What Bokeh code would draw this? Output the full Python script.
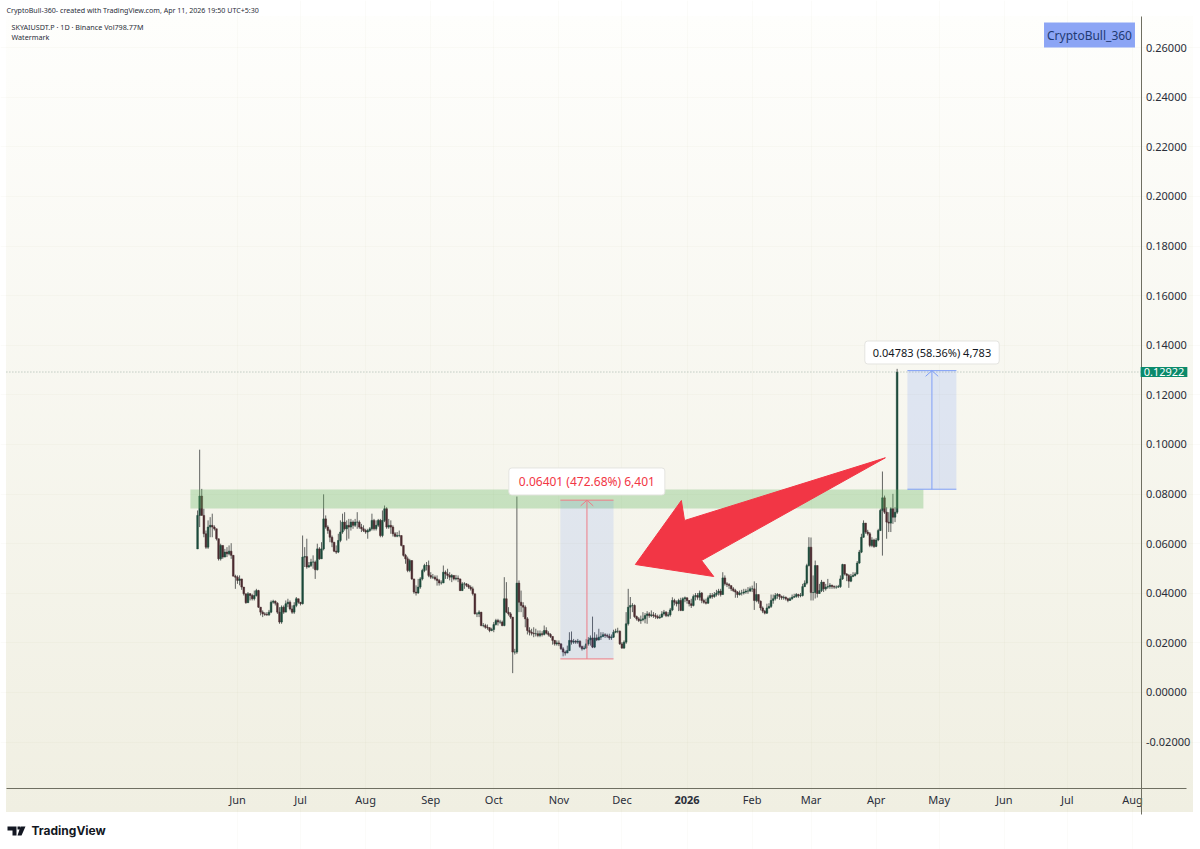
from bokeh.embed import file_html
from bokeh.resources import INLINE
from bokeh.plotting import figure
from bokeh.models import (Range1d, FixedTicker, Label, BoxAnnotation, PolyAnnotation, LinearAxis, Grid,
                          ColumnDataSource)

# ---- price data (USDT), one value per daily bar, from 13 May 2025 to 11 Apr 2026 ----
first_open = .0579
closes = [
 .0714,.0792,.0714,.0640,.0586,.0667,.0674,.0667,.0660,.0620,
 .0539,.0593,.0546,.0566,.0559,.0570,.0553,.0469,.0465,.0452,
 .0458,.0425,.0398,.0362,.0398,.0391,.0378,.0391,.0411,.0344,
 .0324,.0317,.0315,.0313,.0324,.0364,.0368,.0360,.0324,.0284,
 .0344,.0324,.0358,.0364,.0337,.0324,.0351,.0378,.0364,.0358,
 .0546,.0548,.0506,.0512,.0526,.0526,.0495,.0579,.0539,.0579,
 .0700,.0667,.0653,.0626,.0606,.0570,.0566,.0613,.0647,.0687,
 .0660,.0674,.0667,.0687,.0674,.0687,.0687,.0667,.0660,.0653,
 .0647,.0653,.0660,.0694,.0660,.0674,.0694,.0633,.0694,.0741,
 .0667,.0674,.0667,.0640,.0630,.0633,.0633,.0593,.0553,.0539,
 .0492,.0532,.0458,.0405,.0401,.0425,.0458,.0492,.0512,.0512,
 .0472,.0465,.0465,.0458,.0452,.0442,.0442,.0485,.0478,.0472,
 .0465,.0472,.0458,.0461,.0458,.0411,.0438,.0438,.0432,.0425,
 .0418,.0398,.0317,.0317,.0324,.0270,.0270,.0263,.0261,.0250,
 .0254,.0274,.0290,.0284,.0284,.0270,.0378,.0324,.0317,.0304,
 .0163,.0163,.0441,.0364,.0351,.0344,.0297,.0250,.0243,.0239,
 .0237,.0237,.0230,.0237,.0234,.0250,.0239,.0234,.0226,.0210,
 .0196,.0200,.0196,.0176,.0163,.0159,.0169,.0210,.0203,.0207,
 .0203,.0207,.0185,.0176,.0179,.0196,.0212,.0220,.0183,.0220,
 .0212,.0223,.0226,.0233,.0230,.0227,.0220,.0223,.0243,.0247,
 .0247,.0196,.0179,.0203,.0277,.0344,.0351,.0351,.0306,.0297,
 .0290,.0293,.0297,.0310,.0317,.0310,.0313,.0310,.0306,.0301,
 .0304,.0317,.0324,.0310,.0313,.0333,.0371,.0364,.0358,.0371,
 .0331,.0378,.0382,.0371,.0358,.0351,.0387,.0391,.0384,.0401,
 .0371,.0364,.0360,.0382,.0391,.0387,.0395,.0401,.0409,.0395,
 .0462,.0438,.0435,.0431,.0418,.0411,.0405,.0395,.0401,.0401,
 .0405,.0409,.0409,.0418,.0418,.0371,.0395,.0368,.0341,.0328,
 .0320,.0341,.0347,.0371,.0378,.0391,.0395,.0387,.0382,.0384,
 .0378,.0371,.0378,.0384,.0387,.0395,.0390,.0391,.0427,.0441,
 .0512,.0586,.0403,.0403,.0512,.0399,.0411,.0445,.0418,.0425,
 .0427,.0432,.0427,.0425,.0425,.0427,.0458,.0516,.0478,.0472,
 .0449,.0468,.0472,.0478,.0522,.0566,.0626,.0683,.0647,.0640,
 .0593,.0615,.0589,.0615,.0653,.0734,.0785,.0727,.0687,.0683,
 .0741,.0707,.0727,.12922,
]
highs = [
 .0734,.0979,.0821,.0741,.0653,.0694,.0707,.0721,.0674,.0660,
 .0620,.0600,.0593,.0579,.0586,.0593,.0602,.0553,.0475,.0472,
 .0472,.0458,.0425,.0398,.0405,.0401,.0398,.0411,.0418,.0414,
 .0344,.0331,.0324,.0324,.0333,.0371,.0374,.0371,.0364,.0344,
 .0351,.0351,.0371,.0378,.0371,.0351,.0364,.0385,.0378,.0364,
 .0633,.0586,.0620,.0526,.0539,.0553,.0532,.0600,.0586,.0606,
 .0799,.0714,.0674,.0660,.0633,.0606,.0593,.0640,.0694,.0721,
 .0727,.0694,.0700,.0700,.0694,.0700,.0727,.0694,.0680,.0674,
 .0660,.0660,.0667,.0721,.0700,.0694,.0700,.0700,.0734,.0754,
 .0747,.0700,.0694,.0674,.0647,.0647,.0653,.0633,.0593,.0559,
 .0548,.0539,.0532,.0458,.0432,.0458,.0465,.0499,.0519,.0526,
 .0532,.0485,.0478,.0472,.0472,.0458,.0452,.0512,.0492,.0499,
 .0485,.0478,.0472,.0474,.0472,.0458,.0445,.0445,.0441,.0438,
 .0432,.0427,.0398,.0324,.0331,.0324,.0280,.0277,.0274,.0263,
 .0261,.0284,.0297,.0297,.0293,.0290,.0465,.0445,.0344,.0324,
 .0304,.0176,.0790,.0452,.0411,.0364,.0351,.0304,.0263,.0257,
 .0263,.0257,.0250,.0250,.0247,.0270,.0263,.0247,.0239,.0226,
 .0212,.0210,.0210,.0199,.0183,.0169,.0189,.0243,.0246,.0216,
 .0212,.0216,.0210,.0189,.0189,.0216,.0223,.0230,.0306,.0243,
 .0234,.0257,.0243,.0243,.0239,.0237,.0237,.0234,.0253,.0257,
 .0261,.0250,.0203,.0210,.0324,.0418,.0385,.0360,.0355,.0310,
 .0304,.0310,.0324,.0320,.0328,.0324,.0331,.0324,.0320,.0314,
 .0314,.0328,.0333,.0328,.0324,.0341,.0384,.0378,.0371,.0378,
 .0382,.0384,.0387,.0382,.0373,.0378,.0395,.0401,.0401,.0411,
 .0405,.0378,.0378,.0391,.0401,.0401,.0405,.0414,.0418,.0418,
 .0485,.0472,.0445,.0441,.0431,.0425,.0418,.0409,.0411,.0414,
 .0418,.0418,.0425,.0427,.0431,.0448,.0441,.0395,.0371,.0347,
 .0333,.0358,.0360,.0395,.0395,.0401,.0401,.0398,.0391,.0391,
 .0387,.0382,.0384,.0395,.0398,.0401,.0398,.0401,.0438,.0452,
 .0519,.0626,.0625,.0472,.0532,.0512,.0438,.0454,.0445,.0438,
 .0458,.0441,.0435,.0432,.0432,.0434,.0472,.0519,.0516,.0481,
 .0478,.0478,.0485,.0485,.0530,.0575,.0640,.0694,.0683,.0656,
 .0647,.0626,.0620,.0623,.0660,.0741,.0891,.0794,.0747,.0727,
 .0747,.0801,.0747,.1305,
]
lows = [
 .0579,.0667,.0714,.0626,.0579,.0579,.0626,.0626,.0653,.0613,
 .0532,.0532,.0539,.0546,.0546,.0553,.0539,.0469,.0418,.0438,
 .0432,.0414,.0391,.0358,.0362,.0371,.0371,.0371,.0387,.0341,
 .0311,.0304,.0309,.0309,.0309,.0320,.0358,.0351,.0317,.0277,
 .0277,.0317,.0344,.0344,.0331,.0317,.0317,.0344,.0358,.0351,
 .0355,.0506,.0499,.0503,.0506,.0499,.0458,.0492,.0535,.0539,
 .0573,.0660,.0640,.0606,.0586,.0566,.0559,.0562,.0606,.0640,
 .0653,.0613,.0620,.0653,.0660,.0667,.0660,.0660,.0647,.0647,
 .0640,.0620,.0647,.0653,.0653,.0653,.0667,.0626,.0626,.0687,
 .0660,.0660,.0640,.0629,.0626,.0626,.0626,.0589,.0548,.0519,
 .0485,.0485,.0454,.0398,.0391,.0398,.0418,.0452,.0485,.0492,
 .0465,.0458,.0458,.0452,.0431,.0431,.0435,.0441,.0458,.0458,
 .0452,.0445,.0452,.0452,.0445,.0409,.0409,.0418,.0425,.0418,
 .0411,.0391,.0315,.0304,.0304,.0267,.0263,.0257,.0253,.0243,
 .0247,.0243,.0270,.0270,.0277,.0267,.0267,.0320,.0310,.0297,
 .0078,.0153,.0156,.0324,.0324,.0304,.0263,.0234,.0230,.0230,
 .0223,.0226,.0223,.0223,.0226,.0230,.0234,.0226,.0220,.0193,
 .0189,.0189,.0187,.0172,.0146,.0149,.0159,.0167,.0193,.0196,
 .0196,.0196,.0180,.0169,.0173,.0176,.0189,.0189,.0179,.0179,
 .0207,.0210,.0212,.0223,.0220,.0220,.0212,.0212,.0220,.0239,
 .0239,.0192,.0176,.0176,.0196,.0270,.0297,.0324,.0301,.0290,
 .0284,.0277,.0287,.0279,.0277,.0301,.0304,.0301,.0297,.0296,
 .0297,.0301,.0310,.0304,.0304,.0306,.0328,.0351,.0347,.0328,
 .0328,.0328,.0364,.0358,.0347,.0341,.0347,.0371,.0374,.0371,
 .0360,.0358,.0355,.0358,.0378,.0378,.0382,.0387,.0391,.0387,
 .0395,.0431,.0425,.0418,.0409,.0405,.0382,.0382,.0391,.0391,
 .0395,.0398,.0398,.0405,.0405,.0333,.0364,.0358,.0331,.0320,
 .0315,.0317,.0337,.0341,.0358,.0371,.0378,.0374,.0374,.0374,
 .0371,.0364,.0371,.0374,.0382,.0382,.0382,.0384,.0387,.0425,
 .0435,.0508,.0371,.0371,.0379,.0383,.0398,.0405,.0405,.0411,
 .0418,.0418,.0418,.0418,.0418,.0422,.0422,.0454,.0472,.0449,
 .0422,.0445,.0465,.0468,.0476,.0519,.0562,.0624,.0640,.0633,
 .0586,.0586,.0583,.0586,.0610,.0651,.0552,.0720,.0620,.0647,
 .0647,.0680,.0687,.0720,
]
first_day = -19   # 13 May 2025, counted from 1 Jun 2025

# ---- axes ----
month_days = [0, 30, 61, 92, 122, 153, 183, 245, 273, 304, 334, 365, 395, 426]
month_names = ["Jun", "Jul", "Aug", "Sep", "Oct", "Nov", "Dec", "Feb", "Mar", "Apr", "May", "Jun", "Jul", "Aug"]
year_day = 214
year_name = "2026"
price_ticks = [-.02, 0, .02, .04, .06, .08, .10, .12, .14, .16, .18, .20, .22, .24, .26]
price_tick_names = ["-0.02000", "0.00000", "0.02000", "0.04000", "0.06000", "0.08000", "0.10000",
                    "0.12000", "0.14000", "0.16000", "0.18000", "0.20000", "0.22000", "0.24000", "0.26000"]
last_price = .12922
last_price_name = "0.12922"

# ---- drawings ----
zone_days = [-22.4, 326.5]
zone_prices = [.0742, .0819]
red_days = [153.7, 179.0]
red_prices = [.01354, .07755]
red_name = "0.06401 (472.68%) 6,401"
blue_days = [318.9, 342.2]
blue_prices = [.08196, .12979]
blue_name = "0.04783 (58.36%) 4,783"
arrow_days = [308.4, 212.8, 211.3, 189.4, 226.7, 220.9]
arrow_prices = [.09464, .06935, .07742, .05161, .04677, .05323]

# The plot frame fills the whole canvas, so nothing around the chart gets clipped.
# Screen position follows x = 237 + 2.101 * day, y = 692 - 2480 * price.
pane_left, axis_day, pane_right = -110.0, 430.1, 451.5
axis_price, pane_bottom, pane_top = -.03891, -.04919, .27258
p = figure(width=1200, height=849, output_backend="svg", toolbar_location=None,
           x_range=Range1d(-112.8, 458.4), y_range=Range1d(-.06331, .27903),
           x_axis_location=None, y_axis_location=None,
           min_border_left=0, min_border_right=0, min_border_top=0, min_border_bottom=0,
           background_fill_alpha=0, border_fill_alpha=0, outline_line_color=None,
           styles={"background":
                   "linear-gradient(#fff,#fff) left top/6px 100% no-repeat,"
                   "linear-gradient(#fff,#fff) right top/7px 100% no-repeat,"
                   "linear-gradient(to bottom,#fff 16px,#fefefc 16px,#f0efe2 812px,#fff 812px)"})
p.center = []

FONT = "Noto Sans"
month_ticker = FixedTicker(ticks=month_days + [year_day])
price_ticker = FixedTicker(ticks=price_ticks)
xa = LinearAxis(ticker=month_ticker, fixed_location=axis_price, bounds=(pane_left, pane_right),
                major_label_overrides=dict(zip(month_days, month_names)) | {year_day: ""})
ya = LinearAxis(ticker=price_ticker, fixed_location=axis_day, bounds=(pane_bottom, pane_top),
                major_label_overrides=dict(zip(price_ticks, price_tick_names)))
for ax in (xa, ya):
    ax.axis_line_color = "#6f6f62"
    ax.axis_line_width = 1
    ax.major_tick_line_color = None
    ax.minor_tick_line_color = None
    ax.major_tick_out = 0
    ax.major_tick_in = 0
    ax.major_label_text_font = FONT
    ax.major_label_text_font_size = "11px"
    ax.major_label_text_color = "#2a2e39"
xa.major_label_standoff = 3
ya.major_label_standoff = 5
p.add_layout(Grid(dimension=0, ticker=month_ticker, bounds=(axis_price, pane_top),
                  grid_line_color="#8a8a60", grid_line_alpha=.035))
p.add_layout(Grid(dimension=1, ticker=price_ticker, bounds=(pane_left, axis_day),
                  grid_line_color="#8a8a60", grid_line_alpha=.035))
p.add_layout(xa, "below")
p.add_layout(ya, "right")

# candles
opens = [first_open] + closes[:-1]
days = [first_day + i for i in range(len(closes))]
up = [c >= o for o, c in zip(opens, closes)]
src = ColumnDataSource(dict(
    day=days, o=opens, h=highs, l=lows, c=closes,
    fill=["#1c4a3b" if u else "#4b2a2f" for u in up]))
p.segment("day", "h", "day", "l", source=src, color="#3c3f3e", line_alpha=.8, line_width=1)
p.vbar("day", 0.8, "o", "c", source=src, fill_color="fill", line_color="fill", line_width=.5)

# horizontal resistance zone
p.quad(left=[zone_days[0]], right=[zone_days[1]], bottom=[zone_prices[0]], top=[zone_prices[1]],
       fill_color="#63b760", fill_alpha=.32, line_color=None)

# last-price line
p.line([pane_left, axis_day], [last_price, last_price], line_color="#6f8f80",
       line_dash=[1, 2], line_width=1, line_alpha=.6)


def measure(dx, dy, line, fill, alpha):
    mid = (dx[0] + dx[1]) / 2
    p.quad(left=[dx[0]], right=[dx[1]], bottom=[dy[0]], top=[dy[1]],
           fill_color=fill, fill_alpha=alpha, line_color=None)
    p.segment(x0=[dx[0], dx[0], mid, mid, mid], y0=[dy[0], dy[1], dy[0], dy[1], dy[1]],
              x1=[dx[1], dx[1], mid, mid - 3, mid + 3], y1=[dy[0], dy[1], dy[1], dy[1] - .0023, dy[1] - .0023],
              line_color=line, line_width=1)


measure(red_days, red_prices, "#ee7c86", "#2962ff", .1)
measure(blue_days, blue_prices, "#7f9ff7", "#2962ff", .12)

# big arrow
p.patch(arrow_days, arrow_prices, fill_color="#f23645", line_color="#f23645", line_width=1, line_join="round")


def tag(text, x, y, color, size="12px", **kw):
    p.add_layout(Label(x=x, y=y, text=text, text_color=color, text_font=FONT, text_font_size=size,
                       text_baseline="middle", **kw))


box = dict(text_align="center", background_fill_color="#ffffff", border_line_color="#e4e4e0",
           border_line_width=1, border_radius=3)
tag(red_name, 166.3, .0851, "#f23645", padding=(10, 5), **box)
tag(blue_name, 330.6, .1371, "#131722", size="11px", padding=(8, 4), **box)

# last-price tag on the price axis
p.add_layout(Label(x=1163.5, x_units="canvas", y=last_price, text=last_price_name, text_color="#ffffff",
                   text_font=FONT, text_font_size="11px", text_align="center",
                   text_baseline="middle", background_fill_color="#0b8a6b", padding=(3, 1)))

# bold year on the time axis
p.add_layout(Label(x=year_day, y=799.5, y_units="canvas", text=year_name, text_color="#2a2e39",
                   text_font=FONT, text_font_size="11px", text_font_style="bold",
                   text_align="center", text_baseline="middle"))

# watermark box
p.add_layout(Label(x=1089, y=34.5, x_units="canvas", y_units="canvas", text="CryptoBull_360", text_color="#1f3a73",
                   text_font=FONT, text_font_size="12px", text_align="center", text_baseline="middle",
                   background_fill_color="#8ca5f5", padding=(3, 4)))

# header and footer
for text, x, y, size in [("CryptoBull-360- created with TradingView.com, Apr 11, 2026 19:50 UTC+5:30", 6, 9, "7.1px"),
                         ("SKYAIUSDT.P \u00b7 1D \u00b7 Binance  Vol798.77M", 11, 26, "7.2px"),
                         ("Watermark", 11, 36, "7.2px")]:
    p.add_layout(Label(x=x, y=y, x_units="canvas", y_units="canvas", text=text, text_color="#2a2e39",
                       text_font=FONT, text_font_size=size, text_baseline="middle"))
p.add_layout(Label(x=31, y=830, x_units="canvas", y_units="canvas", text="TradingView", text_color="#131722",
                   text_font="Inter", text_font_size="12px", text_font_style="bold", text_baseline="middle"))

for xs, ys in [([7, 16, 16, 12, 12, 7], [826, 826, 835, 835, 830, 830]),
               ([20, 25, 21, 17], [826, 826, 835, 835])]:
    p.add_layout(PolyAnnotation(xs=xs, ys=ys, xs_units="canvas", ys_units="canvas", fill_color="#131722",
                                fill_alpha=1, line_color=None))
p.add_layout(BoxAnnotation(left=17, right=19.5, top=826, bottom=829, left_units="canvas", right_units="canvas",
                           top_units="canvas", bottom_units="canvas", fill_color="#131722", fill_alpha=1,
                           line_color=None))

open("out.html", "w").write(file_html(p, INLINE))
